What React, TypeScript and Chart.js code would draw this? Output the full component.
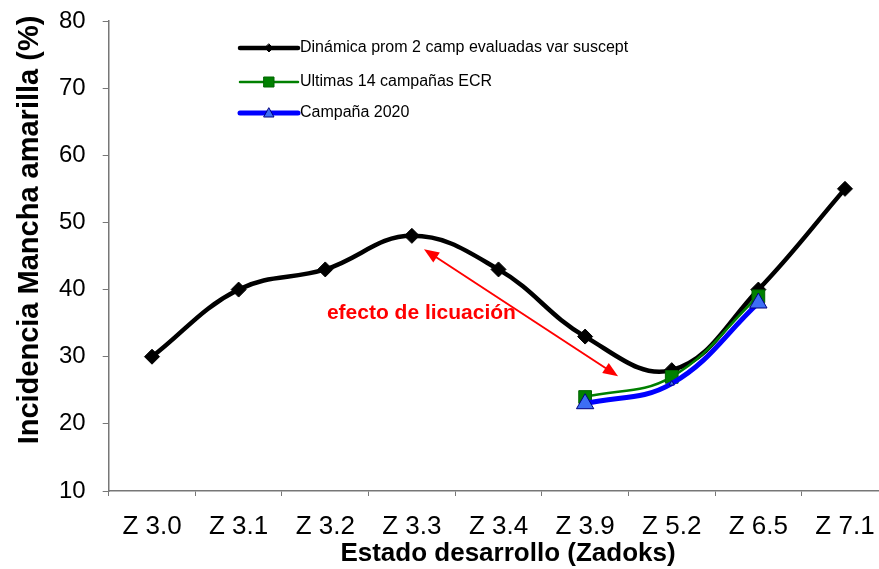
import React, { useEffect, useRef } from "react";
import { Chart, registerables } from "chart.js";

Chart.register(...registerables);

const categories = ["Z 3.0", "Z 3.1", "Z 3.2", "Z 3.3", "Z 3.4", "Z 3.9", "Z 5.2", "Z 6.5", "Z 7.1"];
const dinamica = [30, 40, 43, 48, 43, 33, 28, 40, 55];
const ultimas = [null, null, null, null, null, 24, 27, 39, null];
const campana2020 = [null, null, null, null, null, 23, 26, 38, null];
const yTicks = [10, 20, 30, 40, 50, 60, 70, 80];

const seriesNames = ["Dinámica prom 2 camp evaluadas var suscept", "Ultimas 14 campañas ECR", "Campaña 2020"];
const xTitle = "Estado desarrollo (Zadoks)";
const yTitle = "Incidencia Mancha amarilla (%)";
const annotationText = "efecto de licuación";
// arrow endpoints in data coordinates (category index, value)
const arrowStart = [3.14, 46.0];
const arrowEnd = [5.38, 27.1];
const annotationPos = [3.11, 36.5];

const FONT = "'Liberation Sans', Arial, sans-serif";

function drawHead(ctx: CanvasRenderingContext2D, tx: number, ty: number, fx: number, fy: number) {
  const ang = Math.atan2(ty - fy, tx - fx);
  const len = 15;
  const hw = 6;
  const bx = tx - Math.cos(ang) * len;
  const by = ty - Math.sin(ang) * len;
  ctx.beginPath();
  ctx.moveTo(tx, ty);
  ctx.lineTo(bx + Math.sin(ang) * hw, by - Math.cos(ang) * hw);
  ctx.lineTo(bx - Math.sin(ang) * hw, by + Math.cos(ang) * hw);
  ctx.closePath();
  ctx.fill();
}

const overlayPlugin = {
  id: "overlay",
  afterDatasetsDraw(chart: any) {
    const ctx: CanvasRenderingContext2D = chart.ctx;
    const xs = chart.scales.x;
    const ys = chart.scales.y;
    const x1 = xs.getPixelForValue(arrowStart[0]);
    const y1 = ys.getPixelForValue(arrowStart[1]);
    const x2 = xs.getPixelForValue(arrowEnd[0]);
    const y2 = ys.getPixelForValue(arrowEnd[1]);
    ctx.save();
    ctx.strokeStyle = "#ff0000";
    ctx.fillStyle = "#ff0000";
    ctx.lineWidth = 2;
    const ang = Math.atan2(y2 - y1, x2 - x1);
    ctx.beginPath();
    ctx.moveTo(x1 + Math.cos(ang) * 10, y1 + Math.sin(ang) * 10);
    ctx.lineTo(x2 - Math.cos(ang) * 10, y2 - Math.sin(ang) * 10);
    ctx.stroke();
    drawHead(ctx, x1, y1, x2, y2);
    drawHead(ctx, x2, y2, x1, y1);
    ctx.font = `bold 21px ${FONT}`;
    ctx.textAlign = "center";
    ctx.textBaseline = "middle";
    ctx.fillText(annotationText, xs.getPixelForValue(annotationPos[0]), ys.getPixelForValue(annotationPos[1]));
    ctx.restore();
  },
  afterDraw(chart: any) {
    const ctx: CanvasRenderingContext2D = chart.ctx;
    ctx.save();
    ctx.fillStyle = "#000";
    ctx.font = `bold 26px ${FONT}`;
    ctx.textAlign = "center";
    ctx.textBaseline = "middle";
    ctx.fillText(xTitle, 508, 554);
    ctx.save();
    ctx.translate(30, 230);
    ctx.rotate(-Math.PI / 2);
    ctx.font = `bold 29px ${FONT}`;
    ctx.fillText(yTitle, 0, 0);
    ctx.restore();

    const rows = [48, 82, 113];
    const lx0 = 240;
    const lx1 = 298;
    const mx = 269;
    chart.data.datasets.forEach((ds: any, i: number) => {
      const y = rows[i];
      ctx.strokeStyle = ds.borderColor;
      ctx.lineWidth = ds.borderWidth;
      ctx.lineCap = "round";
      ctx.beginPath();
      ctx.moveTo(lx0, y);
      ctx.lineTo(lx1, y);
      ctx.stroke();
      ctx.fillStyle = ds.pointBackgroundColor;
      ctx.strokeStyle = ds.pointBorderColor;
      ctx.lineWidth = 1;
      ctx.beginPath();
      if (i === 0) {
        ctx.moveTo(mx, y - 4);
        ctx.lineTo(mx + 4, y);
        ctx.lineTo(mx, y + 4);
        ctx.lineTo(mx - 4, y);
        ctx.closePath();
      } else if (i === 1) {
        ctx.rect(mx - 5, y - 5, 10, 10);
      } else {
        ctx.moveTo(mx, y - 5);
        ctx.lineTo(mx + 5, y + 4);
        ctx.lineTo(mx - 5, y + 4);
        ctx.closePath();
      }
      ctx.fill();
      ctx.stroke();
      ctx.fillStyle = "#000";
      ctx.font = `16px ${FONT}`;
      ctx.textAlign = "left";
      ctx.textBaseline = "middle";
      ctx.fillText(seriesNames[i], 300, y);
    });
    ctx.restore();
  },
};

export default function App() {
  const ref = useRef<HTMLCanvasElement | null>(null);
  useEffect(() => {
    if (!ref.current) return;
    const chart = new Chart(ref.current, {
      type: "line",
      data: {
        labels: categories,
        datasets: [
          {
            label: seriesNames[0],
            data: dinamica,
            borderColor: "#000000",
            backgroundColor: "#000000",
            borderWidth: 4.5,
            tension: 0.4,
            pointStyle: "rectRot",
            pointRadius: 7.5,
            pointBackgroundColor: "#000000",
            pointBorderColor: "#000000",
            pointBorderWidth: 1,
            order: 3,
          },
          {
            label: seriesNames[1],
            data: ultimas as any,
            borderColor: "#008000",
            backgroundColor: "#008000",
            borderWidth: 2.5,
            tension: 0.4,
            pointStyle: "rect",
            pointRadius: 9,
            pointBackgroundColor: "#008000",
            pointBorderColor: "#006400",
            pointBorderWidth: 1,
            order: 2,
          },
          {
            label: seriesNames[2],
            data: campana2020 as any,
            borderColor: "#0000ff",
            backgroundColor: "#0000ff",
            borderWidth: 5,
            tension: 0.4,
            pointStyle: "triangle",
            pointRadius: [10, 10, 10, 10, 10, 10, 3, 10, 10],
            pointBackgroundColor: "#3d6ef5",
            pointBorderColor: "#000080",
            pointBorderWidth: 1,
            order: 1,
          },
        ],
      },
      options: {
        animation: false,
        responsive: false,
        devicePixelRatio: 1,
        layout: { padding: { top: 21, right: 11.7, left: 0, bottom: 0 } },
        plugins: { legend: { display: false }, tooltip: { enabled: false } },
        scales: {
          x: {
            type: "category",
            offset: true,
            grid: { offset: true, drawOnChartArea: false, drawTicks: true, tickLength: 5, color: "#777" },
            border: { display: true, color: "#777", width: 1.5 },
            ticks: { color: "#000", font: { family: FONT, size: 26 }, padding: 15, maxRotation: 0, autoSkip: false },
            afterFit: (s: any) => {
              s.height = 78;
              s.paddingLeft = 0;
              s.paddingRight = 0;
            },
          },
          y: {
            min: 10,
            max: 80,
            afterBuildTicks: (s: any) => { s.ticks = yTicks.map((v) => ({ value: v })); },
            grid: { drawOnChartArea: false, drawTicks: true, tickLength: 6, color: "#777" },
            border: { display: true, color: "#777", width: 1.5 },
            ticks: { color: "#000", font: { family: FONT, size: 24 }, padding: 17 },
            afterFit: (s: any) => {
              s.width = 108.7;
              s.paddingTop = 0;
              s.paddingBottom = 0;
            },
          },
        },
      },
      plugins: [overlayPlugin],
    } as any);
    return () => chart.destroy();
  }, []);
  return (
    <div style={{ position: "fixed", left: 0, top: 0, width: 879, height: 569, overflow: "hidden", background: "#fff" }}>
      <canvas ref={ref} width={900} height={569} style={{ display: "block", width: 900, height: 569 }} />
    </div>
  );
}
